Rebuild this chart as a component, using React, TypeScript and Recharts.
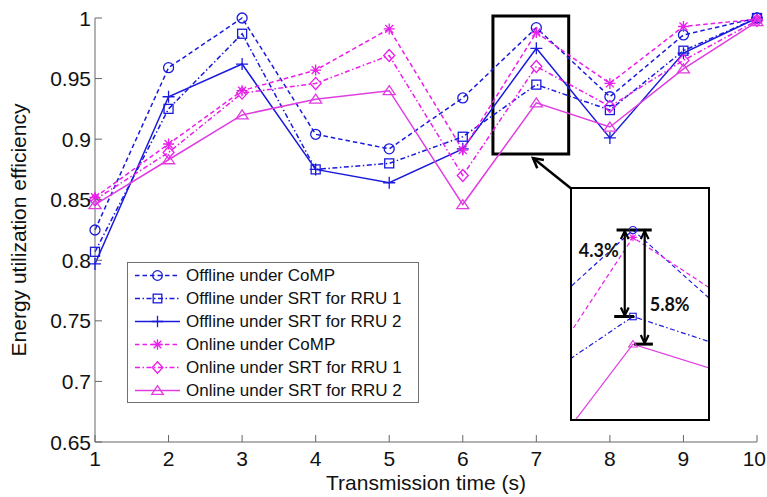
import React from 'react';
import { LineChart, Line, XAxis, YAxis, Legend, ReferenceArea, ReferenceLine } from 'recharts';

// ---------- data ----------
const TIMES = [1, 2, 3, 4, 5, 6, 7, 8, 9, 10];
const OFFLINE_COMP = [0.825, 0.959, 1.0, 0.904, 0.892, 0.934, 0.992, 0.935, 0.986, 1.0];
const OFFLINE_SRT1 = [0.807, 0.925, 0.987, 0.875, 0.88, 0.902, 0.945, 0.924, 0.973, 1.0];
const OFFLINE_SRT2 = [0.797, 0.935, 0.962, 0.875, 0.864, 0.892, 0.975, 0.901, 0.971, 1.0];
const ONLINE_COMP = [0.852, 0.896, 0.94, 0.957, 0.991, 0.891, 0.988, 0.946, 0.993, 0.999];
const ONLINE_SRT1 = [0.85, 0.889, 0.938, 0.946, 0.969, 0.87, 0.96, 0.927, 0.965, 0.998];
const ONLINE_SRT2 = [0.846, 0.883, 0.92, 0.933, 0.94, 0.846, 0.93, 0.91, 0.958, 0.997];

const X_TICKS = [1, 2, 3, 4, 5, 6, 7, 8, 9, 10];
const Y_TICKS = [0.65, 0.7, 0.75, 0.8, 0.85, 0.9, 0.95, 1];
const X_DOMAIN = [1, 10];
const Y_DOMAIN = [0.65, 1];

// zoomed region (highlight box) and inset view
const ZOOM_BOX_X = [6.41, 7.44];
const ZOOM_BOX_Y = [0.8877, 1.0017];
const INSET_X_DOMAIN = [6.48, 7.64];
const INSET_Y_DOMAIN = [0.8893, 1.0018];
const INSET_X_TICKS = [6.5, 7, 7.5];
const CALLOUT_FROM = { x: 6.955, y: 0.8844 };
const CALLOUT_TO = { x: 7.498, y: 0.858 };
const GAP_LABEL_1 = '4.3%';
const GAP_LABEL_2 = '5.8%';
const PEAK_INDEX = 6;

const X_LABEL = 'Transmission time (s)';
const Y_LABEL = 'Energy utilization efficiency';

const BLUE = '#1a1ade';
const MAGENTA = '#ea1eea';
const MAGENTA2 = '#e03ce0';
const DASH = '4.5 3';
const DASHDOT = '5 2.5 1.5 2.5';

const SERIES = [
  { key: 'offlineComp', name: 'Offline under CoMP', values: OFFLINE_COMP, color: BLUE, dash: DASH, marker: 'circle', inset: true },
  { key: 'offlineSrt1', name: 'Offline under SRT for RRU 1', values: OFFLINE_SRT1, color: BLUE, dash: DASHDOT, marker: 'square', inset: true },
  { key: 'offlineSrt2', name: 'Offline under SRT for RRU 2', values: OFFLINE_SRT2, color: BLUE, dash: undefined, marker: 'plus', inset: false },
  { key: 'onlineComp', name: 'Online under CoMP', values: ONLINE_COMP, color: MAGENTA, dash: DASH, marker: 'star', inset: true },
  { key: 'onlineSrt1', name: 'Online under SRT for RRU 1', values: ONLINE_SRT1, color: MAGENTA, dash: DASHDOT, marker: 'diamond', inset: false },
  { key: 'onlineSrt2', name: 'Online under SRT for RRU 2', values: ONLINE_SRT2, color: MAGENTA2, dash: undefined, marker: 'triangle', inset: true },
];

const rows = TIMES.map((t, i) => {
  const r: any = { t };
  SERIES.forEach((s) => (r[s.key] = s.values[i]));
  return r;
});

const FONT = '"Liberation Sans", Arial, sans-serif';
const AXIS = '#666';
const TEXT = '#111';

// ---------- markers ----------
function Marker({ cx, cy, type, color, s, sw = 1.3 }: any) {
  if (cx == null || cy == null || isNaN(cx) || isNaN(cy)) return null;
  const common = { fill: 'none', stroke: color, strokeWidth: sw };
  switch (type) {
    case 'circle':
      return <circle cx={cx} cy={cy} r={s} {...common} />;
    case 'square':
      return <rect x={cx - s * 0.9} y={cy - s * 0.9} width={s * 1.8} height={s * 1.8} {...common} />;
    case 'plus':
      return <path d={`M${cx - s * 1.2},${cy}H${cx + s * 1.2}M${cx},${cy - s * 1.2}V${cy + s * 1.2}`} {...common} />;
    case 'star': {
      const a = s * 1.1;
      const d = a * 0.72;
      return (
        <path
          d={`M${cx - a},${cy}H${cx + a}M${cx},${cy - a}V${cy + a}M${cx - d},${cy - d}L${cx + d},${cy + d}M${cx - d},${cy + d}L${cx + d},${cy - d}`}
          {...common}
        />
      );
    }
    case 'diamond':
      return <path d={`M${cx},${cy - s * 1.2}L${cx + s * 1.1},${cy}L${cx},${cy + s * 1.2}L${cx - s * 1.1},${cy}Z`} {...common} />;
    case 'triangle':
      return <path d={`M${cx},${cy - s}L${cx + s * 1.2},${cy + s * 0.8}L${cx - s * 1.2},${cy + s * 0.8}Z`} {...common} />;
    default:
      return null;
  }
}

// ---------- ticks (inward, MATLAB style) ----------
const BottomTick = (p: any) => {
  const isLast = p.payload.value === X_TICKS[X_TICKS.length - 1];
  return (
    <g>
      <line x1={p.x} y1={p.y} x2={p.x} y2={p.y - 7} stroke={AXIS} />
      <text
        x={isLast ? p.x + 9 : p.x}
        y={p.y + 24}
        textAnchor={isLast ? 'end' : 'middle'}
        fontSize={21}
        fontFamily={FONT}
        fill={TEXT}
      >
        {String(p.payload.value)}
      </text>
    </g>
  );
};
const TopTick = (p: any) => <line x1={p.x} y1={p.y} x2={p.x} y2={p.y + 7} stroke={AXIS} />;
const LeftTick = (p: any) => (
  <g>
    <line x1={p.x} y1={p.y} x2={p.x + 7} y2={p.y} stroke={AXIS} />
    <text x={p.x - 4} y={p.y + 7.5} textAnchor="end" fontSize={21} fontFamily={FONT} fill={TEXT}>
      {String(p.payload.value)}
    </text>
  </g>
);
const RightTick = (p: any) => <line x1={p.x} y1={p.y} x2={p.x - 7} y2={p.y} stroke={AXIS} />;
const InsetTick = (p: any) => <line x1={p.x} y1={p.y} x2={p.x} y2={p.y + 3.5} stroke="#333" />;

// ---------- arrows ----------
function head(tx: number, ty: number, fx: number, fy: number, len: number, spread: number) {
  const ang = Math.atan2(fy - ty, fx - tx);
  const a1 = ang + spread;
  const a2 = ang - spread;
  return `M${tx + len * Math.cos(a1)},${ty + len * Math.sin(a1)}L${tx},${ty}L${tx + len * Math.cos(a2)},${ty + len * Math.sin(a2)}`;
}

const CalloutArrow = (p: any) => (
  <g>
    <line x1={p.x1} y1={p.y1} x2={p.x2} y2={p.y2} stroke="#000" strokeWidth={2.5} />
    <path d={head(p.x1, p.y1, p.x2, p.y2, 11, 0.5)} fill="none" stroke="#000" strokeWidth={2.5} />
  </g>
);

const makeGapArrow = (label: string, side: 'left' | 'right') => (p: any) => {
  const top = Math.min(p.y1, p.y2);
  const bot = Math.max(p.y1, p.y2);
  return (
    <g>
      <line x1={p.x1} y1={top + 1} x2={p.x2} y2={bot - 1} stroke="#000" strokeWidth={2.2} />
      <path d={head(p.x1, top + 1, p.x1, bot, 9, 0.45)} fill="none" stroke="#000" strokeWidth={2.2} />
      <path d={head(p.x1, bot - 1, p.x1, top, 9, 0.45)} fill="none" stroke="#000" strokeWidth={2.2} />
      <text
        x={side === 'left' ? p.x1 - 6 : p.x1 + 5}
        y={side === 'left' ? top + 27 : (top + bot) / 2 + 24}
        textAnchor={side === 'left' ? 'end' : 'start'}
        fontSize={18}
        fontWeight="bold"
        fontFamily="Lato, 'Open Sans', sans-serif"
        fill="#111"
      >
        {label}
      </text>
    </g>
  );
};

// ---------- legend ----------
const LegendBox = () => (
  <div
    style={{
      width: 292,
      height: 141,
      boxSizing: 'border-box',
      border: '1px solid #707070',
      background: '#fff',
      paddingTop: 1,
      fontFamily: FONT,
    }}
  >
    {SERIES.map((s) => (
      <div key={s.key} style={{ display: 'flex', alignItems: 'center', height: 23 }}>
        <svg width={58} height={23} style={{ display: 'block', flex: 'none' }}>
          <line x1={7} y1={11.5} x2={52} y2={11.5} stroke={s.color} strokeWidth={1.5} strokeDasharray={s.dash} />
          <Marker cx={29.5} cy={11.5} type={s.marker} color={s.color} s={4.8} />
        </svg>
        <span style={{ fontSize: 17, color: TEXT, whiteSpace: 'nowrap', lineHeight: '23px' }}>{s.name}</span>
      </div>
    ))}
  </div>
);

// ---------- inset ----------
const Inset = () => (
  <div
    style={{
      position: 'absolute',
      left: 570,
      top: 187,
      width: 140,
      height: 234,
      boxSizing: 'border-box',
      border: '2px solid #000',
      background: '#fff',
    }}
  >
    <LineChart width={136} height={230} data={rows} margin={{ top: 23, right: 0, bottom: 0, left: 0 }}>
      <XAxis
        orientation="top"
        dataKey="t"
        type="number"
        domain={INSET_X_DOMAIN}
        allowDataOverflow
        ticks={INSET_X_TICKS}
        interval={0}
        height={0}
        tickSize={0}
        tickMargin={0}
        tick={InsetTick}
        tickLine={false}
        axisLine={{ stroke: '#333' }}
      />
      <YAxis hide type="number" domain={INSET_Y_DOMAIN} allowDataOverflow />
      {SERIES.filter((s) => s.inset).map((s) => (
        <Line
          key={s.key}
          dataKey={s.key}
          stroke={s.color}
          strokeWidth={1.2}
          strokeDasharray={s.dash}
          isAnimationActive={false}
          activeDot={false}
          dot={(p: any) => <Marker key={`${s.key}-${p.index}`} cx={p.cx} cy={p.cy} type={s.marker} color={s.color} s={3.6} sw={1.1} />}
        />
      ))}
      <ReferenceLine
        segment={[{ x: 6.86, y: OFFLINE_COMP[PEAK_INDEX] }, { x: 7.16, y: OFFLINE_COMP[PEAK_INDEX] }]}
        stroke="#000"
        strokeWidth={3}
      />
      <ReferenceLine
        segment={[{ x: 6.84, y: OFFLINE_SRT1[PEAK_INDEX] }, { x: 7.01, y: OFFLINE_SRT1[PEAK_INDEX] }]}
        stroke="#000"
        strokeWidth={3}
      />
      <ReferenceLine
        segment={[{ x: 7.01, y: ONLINE_SRT2[PEAK_INDEX] }, { x: 7.17, y: ONLINE_SRT2[PEAK_INDEX] }]}
        stroke="#000"
        strokeWidth={3}
      />
      <ReferenceLine
        segment={[{ x: 6.93, y: OFFLINE_COMP[PEAK_INDEX] }, { x: 6.93, y: OFFLINE_SRT1[PEAK_INDEX] }]}
        shape={makeGapArrow(GAP_LABEL_1, 'left')}
      />
      <ReferenceLine
        segment={[{ x: 7.1, y: OFFLINE_COMP[PEAK_INDEX] }, { x: 7.1, y: ONLINE_SRT2[PEAK_INDEX] }]}
        shape={makeGapArrow(GAP_LABEL_2, 'right')}
      />
    </LineChart>
  </div>
);

// ---------- main ----------
export default function App() {
  return (
    <div style={{ position: 'absolute', left: 0, top: 0, width: 767, height: 497, background: '#fff', fontFamily: FONT }}>
      <LineChart width={767} height={497} data={rows} margin={{ top: 18, right: 10, bottom: 25, left: 10 }}>
        <XAxis
          dataKey="t"
          type="number"
          domain={X_DOMAIN}
          ticks={X_TICKS}
          interval={0}
          height={30}
          tickSize={0}
          tickMargin={0}
          tick={BottomTick}
          tickLine={false}
          axisLine={{ stroke: AXIS }}
          label={{ value: X_LABEL, position: 'bottom', offset: 3, fontSize: 21, fill: TEXT, fontFamily: FONT }}
        />
        <XAxis
          xAxisId="top"
          orientation="top"
          dataKey="t"
          type="number"
          domain={X_DOMAIN}
          ticks={X_TICKS}
          interval={0}
          height={0}
          tickSize={0}
          tickMargin={0}
          tick={TopTick}
          tickLine={false}
          axisLine={{ stroke: AXIS }}
        />
        <YAxis
          type="number"
          domain={Y_DOMAIN}
          ticks={Y_TICKS}
          interval={0}
          width={85}
          tickSize={0}
          tickMargin={0}
          tick={LeftTick}
          tickLine={false}
          axisLine={{ stroke: AXIS }}
          label={{
            value: Y_LABEL,
            angle: -90,
            position: 'insideLeft',
            offset: 9,
            fontSize: 21,
            fill: TEXT,
            fontFamily: FONT,
            style: { textAnchor: 'middle' },
          }}
        />
        <YAxis
          yAxisId="right"
          orientation="right"
          type="number"
          domain={Y_DOMAIN}
          ticks={Y_TICKS}
          interval={0}
          width={0}
          tickSize={0}
          tickMargin={0}
          tick={RightTick}
          tickLine={false}
          axisLine={{ stroke: AXIS }}
        />
        <Line
          xAxisId="top"
          yAxisId="right"
          dataKey="offlineComp"
          stroke="none"
          dot={false}
          activeDot={false}
          legendType="none"
          isAnimationActive={false}
        />
        {SERIES.map((s) => (
          <Line
            key={s.key}
            dataKey={s.key}
            name={s.name}
            stroke={s.color}
            strokeWidth={1.5}
            strokeDasharray={s.dash}
            isAnimationActive={false}
            activeDot={false}
            dot={(p: any) => <Marker key={`${s.key}-${p.index}`} cx={p.cx} cy={p.cy} type={s.marker} color={s.color} s={5} />}
          />
        ))}
        <ReferenceArea
          x1={ZOOM_BOX_X[0]}
          x2={ZOOM_BOX_X[1]}
          y1={ZOOM_BOX_Y[0]}
          y2={ZOOM_BOX_Y[1]}
          ifOverflow="visible"
          fill="none"
          fillOpacity={0}
          stroke="#000"
          strokeWidth={3}
        />
        <ReferenceLine segment={[CALLOUT_FROM, CALLOUT_TO]} shape={CalloutArrow} ifOverflow="visible" />
        <Legend
          layout="vertical"
          align="center"
          verticalAlign="middle"
          wrapperStyle={{ left: 127, top: 262, width: 292, height: 141 }}
          content={() => <LegendBox />}
        />
      </LineChart>
      <Inset />
    </div>
  );
}
